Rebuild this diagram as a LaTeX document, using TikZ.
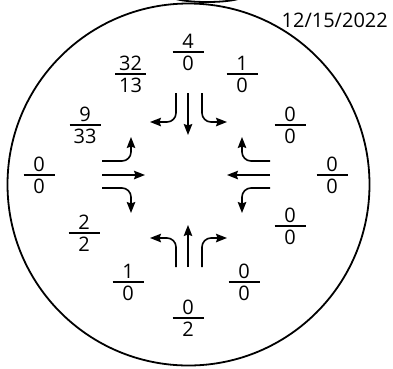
\documentclass[tikz,border=0pt]{standalone}
\usepackage{fontspec}
\setmainfont{Open Sans}
\usetikzlibrary{arrows.meta}
\newcommand\frc[5]{%
  \node[fig,anchor=south] (#1n) at (#2,#3-3.5) {#4};
  \node[fig,anchor=north] (#1d) at (#2,#3+3.5) {#5};
  \draw[fbar] (#2-15.5,#3) -- (#2+15.5,#3);}
\begin{document}
\begin{tikzpicture}[x=1pt,y=-1pt,
  lane/.style={line width=1.6pt,rounded corners=9pt,-{Stealth[length=11pt,width=8.5pt,inset=1.5pt]}},
  fig/.style={inner sep=0pt,font=\fontsize{20}{21}\selectfont},
  fbar/.style={line width=1.4pt}]
\useasboundingbox (0,0) rectangle (393,368);
\draw[line width=1.8pt] (188.5,184.5) circle[radius=181];
\draw[line width=1.8pt] (207,-4) ellipse[x radius=36,y radius=6];
\node[fig,anchor=base east] (date) at (388,27) {12/15/2022};
\frc{f1}{188}{52}{4}{0}
\frc{f2}{130.5}{74}{32}{13}
\frc{f3}{242}{74}{1}{0}
\frc{f4}{85}{125}{9}{33}
\frc{f5}{290}{125}{0}{0}
\frc{f6}{39}{175}{0}{0}
\frc{f7}{332}{175}{0}{0}
\frc{f8}{84}{233}{2}{2}
\frc{f9}{290}{226}{0}{0}
\frc{f10}{128}{282}{1}{0}
\frc{f11}{244}{282}{0}{0}
\frc{f12}{188}{318}{0}{2}
% north approach
\draw[lane] (188,93) -- (188,135);
\draw[lane] (176,93) -- (176,122) -- (150,122);
\draw[lane] (202,93) -- (202,122) -- (227,122);
% south approach
\draw[lane] (188,267) -- (188,225);
\draw[lane] (176,267) -- (176,238) -- (150,238);
\draw[lane] (202,267) -- (202,238) -- (227,238);
% west approach
\draw[lane] (102,175) -- (145,175);
\draw[lane] (102,161) -- (131,161) -- (131,137);
\draw[lane] (102,188) -- (131,188) -- (131,213);
% east approach
\draw[lane] (270,175) -- (227,175);
\draw[lane] (270,161) -- (242,161) -- (242,137);
\draw[lane] (270,188) -- (242,188) -- (242,213);
\end{tikzpicture}
\end{document}
